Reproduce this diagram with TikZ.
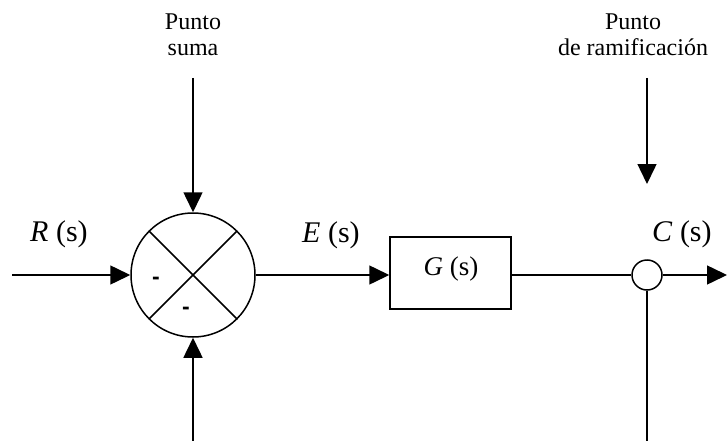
\documentclass[tikz,border=0pt]{standalone}
\usepackage{fontspec}
\setmainfont{Liberation Serif}
\newfontfamily\minusfont{Liberation Sans}
\usetikzlibrary{arrows.meta}
\tikzset{
  ln/.style={line width=1.5pt},
  arr/.style={ln,-{Triangle[length=20pt,width=19pt]}},
  biglbl/.style={font=\fontsize{30}{34}\selectfont, inner sep=0pt, anchor=base west},
  smalllbl/.style={font=\fontsize{24}{28}\selectfont, inner sep=0pt, anchor=base},
  sgn/.style={font=\minusfont\bfseries\fontsize{23}{26}\selectfont, inner sep=0pt},
}
\begin{document}
\begin{tikzpicture}[x=1pt,y=-1pt]
\useasboundingbox (0,0) rectangle (727,441);
% nodes
\node[ln,draw,circle,minimum size=124pt,inner sep=0pt] (S) at (193,275) {};
\node[ln,draw,rectangle,minimum width=121pt,minimum height=72pt,inner sep=0pt] (G) at (450.5,273) {};
\node[font=\fontsize{27}{30}\selectfont, inner sep=0pt, anchor=base] (Gt) at (451,275) {\textit{G} (s)};
\node[ln,draw,circle,fill=white,minimum size=30pt,inner sep=0pt] (B) at (647,275) {};
% cross
\draw[ln] (S.45) -- (S.225);
\draw[ln] (S.135) -- (S.-45);
% signs
\node[sgn] (m1) at (156,281) {-};
\node[sgn] (m2) at (186,311) {-};
% coordinates
\coordinate (in) at (12,275);
\coordinate (out) at (727,275);
\coordinate (t1) at (193,78);
\coordinate (b1) at (193,441);
\coordinate (t2) at (647,78);
\coordinate (t2e) at (647,184);
\coordinate (b2) at (647,441);
% connectors
\draw[arr] (in) -- (S.west);
\draw[arr] (t1) -- (S.north);
\draw[arr] (b1) -- (S.south);
\draw[arr] (S.east) -- (G.west |- S.east);
\draw[ln] (G.east |- B.west) -- (B.west);
\draw[arr] (B.east) -- (out);
\draw[arr] (t2) -- (t2e);
\draw[ln] (B.south) -- (b2);
% labels
\node[biglbl] (R) at (30,241) {\textit{R} (s)};
\node[biglbl] (E) at (302,242) {\textit{E} (s)};
\node[biglbl] (C) at (652,241) {\textit{C} (s)};
\node[smalllbl] (p1) at (193,30) {Punto};
\node[smalllbl] (p2) at (193,56) {suma};
\node[smalllbl] (p3) at (633,30) {Punto};
\node[smalllbl] (p4) at (633,56) {de ramificación};
\end{tikzpicture}
\end{document}
